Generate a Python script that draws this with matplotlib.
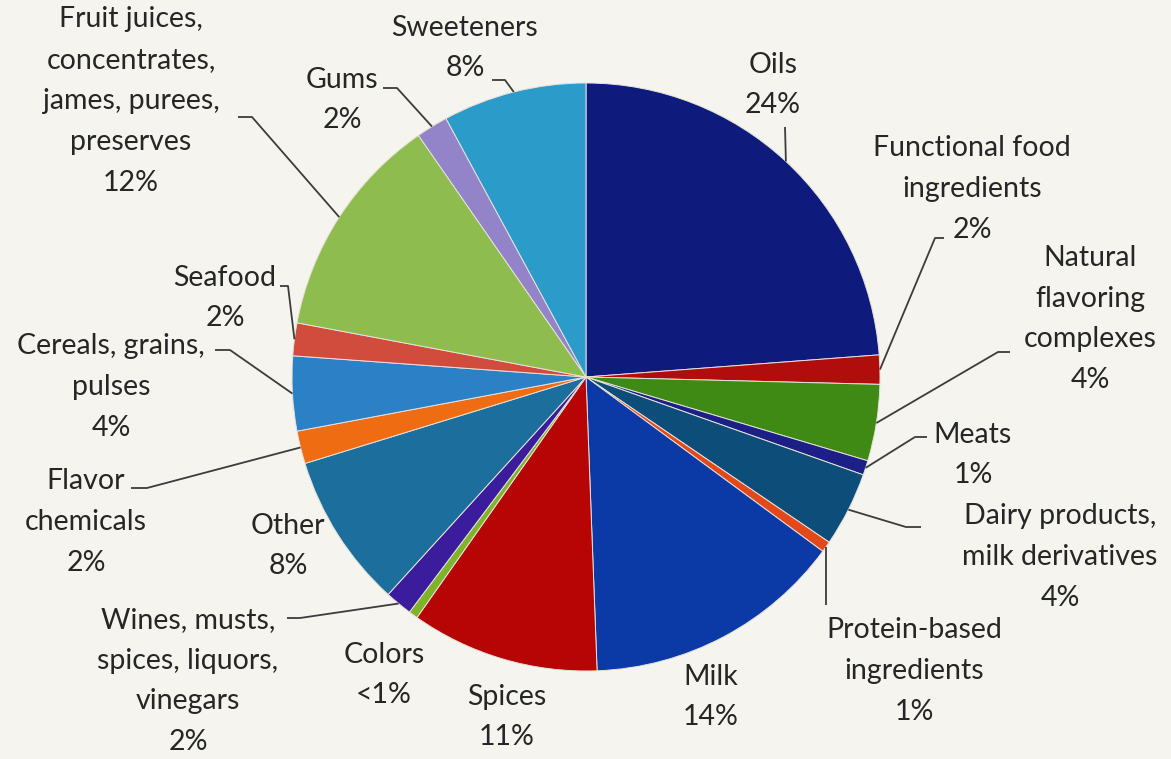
import numpy as np
import matplotlib.pyplot as plt

OUTPUT = "out.png"
W, H = 1171, 759

# slice shares, clockwise from 12 o'clock
categories = [
    "Oils", "Functional food ingredients", "Natural flavoring complexes", "Meats",
    "Dairy products, milk derivatives", "Protein-based ingredients", "Milk", "Spices",
    "Colors", "Wines, musts, spices, liquors, vinegars", "Other", "Flavor chemicals",
    "Cereals, grains, pulses", "Seafood",
    "Fruit juices, concentrates, james, purees, preserves", "Gums", "Sweeteners",
]
shares = [23.8, 1.6, 4.2, 0.8, 4.1, 0.6, 14.3, 10.35, 0.5, 1.5, 8.5, 1.8,
          4.1, 1.8, 12.4, 1.75, 7.9]
pct_labels = ["24%", "2%", "4%", "1%", "4%", "1%", "14%", "11%", "<1%", "2%",
              "8%", "2%", "4%", "2%", "12%", "2%", "8%"]
label_text = [
    "Oils", "Functional food\ningredients", "Natural\nflavoring\ncomplexes", "Meats",
    "Dairy products,\nmilk derivatives", "Protein-based\ningredients", "Milk", "Spices",
    "Colors", "Wines, musts,\nspices, liquors,\nvinegars", "Other", "Flavor\nchemicals",
    "Cereals, grains,\npulses", "Seafood",
    "Fruit juices,\nconcentrates,\njames, purees,\npreserves", "Gums", "Sweeteners",
]
colors = ["#0e1a7c", "#b10d0d", "#3f8a14", "#1b1f86", "#0c4d7a", "#e2481a",
          "#0b3aa6", "#b70404", "#80b428", "#3b1c9c", "#1c6f9c", "#f06c12",
          "#2b80c6", "#d24c3e", "#8fbc4e", "#9383c9", "#2b9bc9"]

# layout in pixel coords (y downward): label centres
label_pos = [(773, 85), (972, 189), (1090, 319), (973, 455), (1060, 557),
             (914, 671), (711, 697), (507, 717), (384, 675), (188, 681),
             (288, 546), (86, 522), (111, 387), (225, 298), (131, 101),
             (342, 100), (465, 48)]
# leader start / elbow points
leaders = {
    0: [(785, 127)],
    1: [(944, 238), (935, 238)],
    2: [(1010, 352), (998, 352)],
    3: [(927, 437), (915, 437)],
    4: [(921, 527), (906, 527)],
    5: "vertical",
    9: [(287, 618), (300, 618)],
    11: [(131, 488), (147, 488)],
    12: [(215, 350), (230, 350)],
    13: [(280, 286), (288, 286)],
    14: [(238, 117), (252, 117)],
    15: [(383, 88), (397, 88)],
    16: [(492, 80), (505, 80)],
}

CX, CY, R = 586, H - 377, 294

plt.rcParams["font.family"] = ["Lato", "DejaVu Sans"]
fig = plt.figure(figsize=(W / 100, H / 100), dpi=100)
fig.patch.set_facecolor("#f5f4ef")
ax = fig.add_axes([0, 0, 1, 1])
ax.set_facecolor("#f5f4ef")

wedges, _ = ax.pie(shares, colors=colors, startangle=90, counterclock=False,
                   center=(CX, CY), radius=R,
                   wedgeprops=dict(linewidth=0.7, edgecolor="#e6e2da"))
ax.set_xlim(0, W)
ax.set_ylim(0, H)
ax.set_aspect("auto")
ax.axis("off")

for i, w in enumerate(wedges):
    x, y = label_pos[i]
    ax.text(x, H - y, label_text[i] + "\n" + pct_labels[i], ha="center", va="center",
            multialignment="center", fontsize=20.5, color="#262626", linespacing=1.71)
    if i not in leaders:
        continue
    mid = np.deg2rad((w.theta1 + w.theta2) / 2)
    ex, ey = CX + R * np.cos(mid), CY + R * np.sin(mid)
    if leaders[i] == "vertical":
        xs, ys = [ex, ex], [ey, H - 605]
    else:
        pts = leaders[i]
        xs = [p[0] for p in pts] + [ex]
        ys = [H - p[1] for p in pts] + [ey]
    ax.plot(xs, ys, color="#3c3c3c", linewidth=1.3, solid_capstyle="butt")

plt.savefig(OUTPUT, dpi=100, facecolor=fig.get_facecolor())
